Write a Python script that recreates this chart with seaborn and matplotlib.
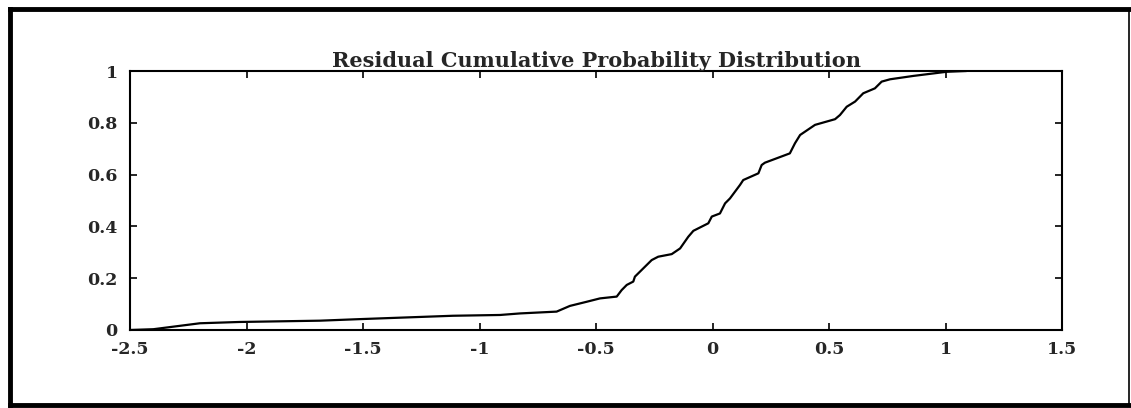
import matplotlib
matplotlib.use("Agg")
import matplotlib.pyplot as plt
import seaborn as sns
import pandas as pd
from matplotlib.lines import Line2D

# Empirical CDF of the residuals (residual value, cumulative probability)
residual = [-2.50, -2.40, -2.20, -2.03, -1.685, -1.513, -1.114, -0.912, -0.826,
            -0.669, -0.612, -0.54, -0.483, -0.411, -0.390, -0.368, -0.340, -0.333,
            -0.297, -0.261, -0.233, -0.175, -0.139, -0.104, -0.082, -0.018, -0.003,
            0.032, 0.054, 0.075, 0.118, 0.132, 0.197, 0.211, 0.225, 0.332, 0.354,
            0.376, 0.440, 0.526, 0.547, 0.576, 0.612, 0.647, 0.697, 0.726, 0.762,
            0.862, 1.005, 1.09]
cum_prob = [0.0, 0.003, 0.026, 0.031, 0.036, 0.042, 0.055, 0.058, 0.064,
            0.071, 0.093, 0.109, 0.122, 0.129, 0.154, 0.174, 0.187, 0.206,
            0.238, 0.270, 0.283, 0.293, 0.315, 0.360, 0.383, 0.412, 0.438,
            0.450, 0.489, 0.508, 0.560, 0.579, 0.605, 0.637, 0.646, 0.682, 0.721,
            0.753, 0.792, 0.814, 0.830, 0.862, 0.882, 0.914, 0.933, 0.959, 0.968,
            0.981, 0.997, 1.0]

x_ticks = [-2.5, -2, -1.5, -1, -0.5, 0, 0.5, 1, 1.5]
x_tick_labels = ["-2.5", "-2", "-1.5", "-1", "-0.5", "0", "0.5", "1", "1.5"]
y_ticks = [0, 0.2, 0.4, 0.6, 0.8, 1]
y_tick_labels = ["0", "0.2", "0.4", "0.6", "0.8", "1"]

df = pd.DataFrame({"residual": residual, "cum_prob": cum_prob})

sns.set_style("ticks")
plt.rcParams["font.family"] = ["DejaVu Serif"]
plt.rcParams["axes.unicode_minus"] = False

W, H = 1131, 408
fig = plt.figure(figsize=(W / 100, H / 100), dpi=100)
ax = fig.add_axes([130 / W, 1 - 330 / H, (1062 - 130) / W, (330 - 71) / H])

sns.lineplot(data=df, x="residual", y="cum_prob", ax=ax, color="black",
             linewidth=1.6, sort=False, estimator=None)

ax.set_xlim(-2.5, 1.5)
ax.set_ylim(0, 1)
ax.set_xticks(x_ticks)
ax.set_xticklabels(x_tick_labels, fontsize=12.5, fontweight="bold")
ax.set_yticks(y_ticks)
ax.set_yticklabels(y_tick_labels, fontsize=12.5, fontweight="bold")
ax.set_xlabel("")
ax.set_ylabel("")
ax.tick_params(direction="in", length=5, width=1.2, top=True, right=True,
               color="black")
ax.tick_params(axis="x", pad=8)
ax.tick_params(axis="y", pad=9)
for side in ax.spines.values():
    side.set_visible(True)
    side.set_linewidth(1.5)
    side.set_color("black")

ax.set_title("Residual Cumulative Probability Distribution", fontsize=15,
             fontweight="bold", pad=3)

# Heavy frame around the whole figure (thin on the right edge)
def fig_line(x0, y0, x1, y1, lw):
    fig.add_artist(Line2D([x0 / W, x1 / W], [1 - y0 / H, 1 - y1 / H],
                          transform=fig.transFigure, color="black",
                          linewidth=lw, solid_capstyle="projecting"))

fig_line(10, 9, 10, 405, 3.5)
fig_line(10, 9, 1129, 9, 3.5)
fig_line(10, 405, 1129, 405, 3.5)
fig_line(1129, 9, 1129, 405, 1.2)

fig.savefig("out.png", dpi=100, facecolor="white")
